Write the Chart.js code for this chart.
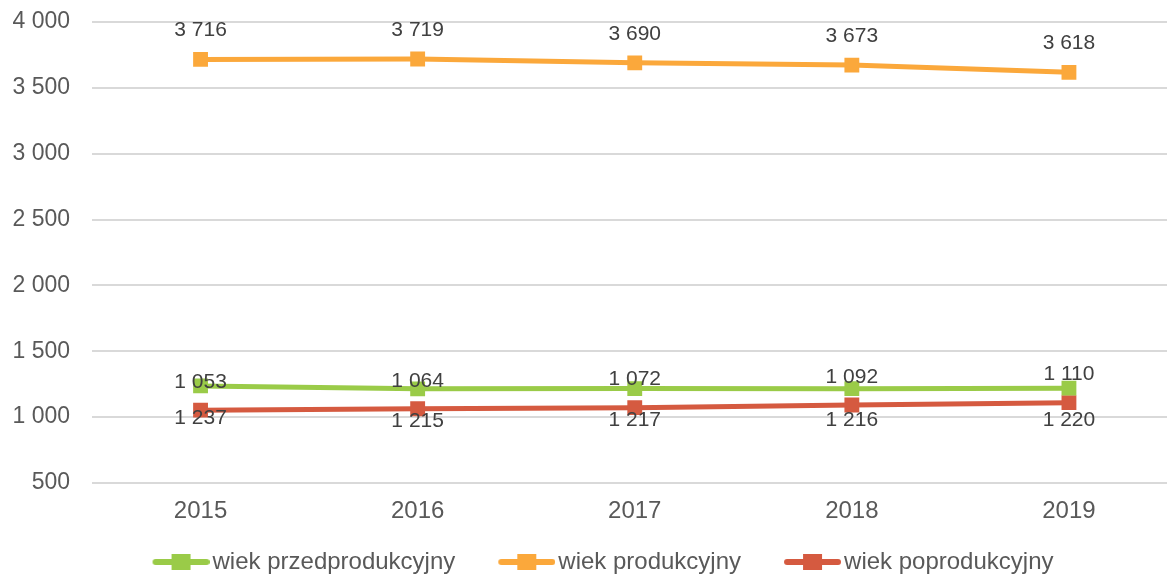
<!DOCTYPE html>
<html lang="pl">
<head>
    <meta charset="UTF-8">
    <script src="https://cdn.jsdelivr.net/npm/chart.js"></script>
    <style>
        html, body {
            margin: 0;
            padding: 0;
            background: #ffffff;
            overflow: hidden;
        }
    </style>
</head>
<body>
    <canvas id="ageChart" width="1188" height="574"></canvas>

    <script>
        const years = ['2015', '2016', '2017', '2018', '2019'];
        const przedprodukcyjny = [1237, 1215, 1217, 1216, 1220];
        const produkcyjny = [3716, 3719, 3690, 3673, 3618];
        const poprodukcyjny = [1053, 1064, 1072, 1092, 1110];
        const yTicks = [500, 1000, 1500, 2000, 2500, 3000, 3500, 4000];

        const fontName = '"Liberation Sans", Arial, sans-serif';

        function fmt(v) {
            return String(v).replace(/\B(?=(\d{3})+(?!\d))/g, ' ');
        }

        // legend marker: line with a square in the middle
        // (left 9px transparent so the icon sits right next to the text)
        function legendIcon(color) {
            const c = document.createElement('canvas');
            c.width = 66;
            c.height = 18;
            const g = c.getContext('2d');
            g.strokeStyle = color;
            g.lineWidth = 6;
            g.lineCap = 'round';
            g.beginPath();
            g.moveTo(12, 9);
            g.lineTo(63, 9);
            g.stroke();
            g.fillStyle = color;
            g.fillRect(28, 1, 19, 16);
            return c;
        }

        // simple data labels (no datalabels plugin available)
        const valueLabels = {
            id: 'valueLabels',
            afterLayout(chart) {
                // nudge the legend a little to the right, like the original
                chart.legend.left += 6;
                chart.legend.right += 6;
            },
            afterDatasetsDraw(chart) {
                const ctx = chart.ctx;
                ctx.save();
                ctx.font = '21px ' + fontName;
                ctx.fillStyle = '#404040';
                ctx.textAlign = 'center';
                ctx.textBaseline = 'middle';
                chart.data.datasets.forEach((ds, i) => {
                    const meta = chart.getDatasetMeta(i);
                    meta.data.forEach((pt, j) => {
                        ctx.fillText(fmt(ds.data[j]), pt.x, pt.y + ds.labelOffset);
                    });
                });
                ctx.restore();
            }
        };

        const series = [
            { label: 'wiek przedprodukcyjny', data: przedprodukcyjny, color: '#9acb48', off: 32 },
            { label: 'wiek produkcyjny', data: produkcyjny, color: '#fba83b', off: -29 },
            { label: 'wiek poprodukcyjny', data: poprodukcyjny, color: '#d55a40', off: -28 }
        ];

        // trailing spaces keep the legend items apart without adding vertical padding
        const legendGap = ['      ', '      ', ''];

        new Chart(document.getElementById('ageChart'), {
            type: 'line',
            data: {
                labels: years,
                datasets: series.map(s => ({
                    label: s.label,
                    data: s.data,
                    borderColor: s.color,
                    backgroundColor: s.color,
                    borderWidth: 5,
                    pointStyle: 'rect',
                    pointRadius: 10.5,
                    pointBorderWidth: 0,
                    pointBackgroundColor: s.color,
                    tension: 0,
                    labelOffset: s.off,
                    legendImg: legendIcon(s.color)
                }))
            },
            options: {
                responsive: false,
                animation: false,
                layout: {
                    padding: { left: 8, right: 2, top: 22, bottom: -10 }
                },
                scales: {
                    x: {
                        offset: true,
                        grid: { display: false },
                        border: { display: false },
                        ticks: {
                            color: '#595959',
                            font: { family: fontName, size: 24 },
                            padding: 6
                        },
                        afterFit(axis) {
                            axis.height = 64;
                            axis.paddingLeft = 0;
                            axis.paddingRight = 0;
                        }
                    },
                    y: {
                        min: 500,
                        max: 4000,
                        afterBuildTicks(axis) {
                            axis.ticks = yTicks.map(v => ({ value: v }));
                        },
                        afterFit(axis) {
                            axis.width = 84;
                            axis.paddingTop = 0;
                            axis.paddingBottom = 0;
                        },
                        grid: { color: '#d9d9d9', lineWidth: 2, drawTicks: false },
                        border: { display: false },
                        ticks: {
                            color: '#595959',
                            font: { family: fontName, size: 23 },
                            padding: 22,
                            callback: v => fmt(v)
                        }
                    }
                },
                plugins: {
                    legend: {
                        position: 'bottom',
                        labels: {
                            usePointStyle: true,
                            pointStyleWidth: 48,
                            boxHeight: 18,
                            padding: 3,
                            color: '#595959',
                            font: { family: fontName, size: 24 },
                            generateLabels(chart) {
                                return chart.data.datasets.map((ds, i) => ({
                                    text: ds.label + legendGap[i],
                                    pointStyle: ds.legendImg,
                                    fillStyle: ds.borderColor,
                                    strokeStyle: ds.borderColor,
                                    lineWidth: 0,
                                    fontColor: '#595959',
                                    datasetIndex: i,
                                    hidden: false
                                }));
                            }
                        }
                    },
                    tooltip: { enabled: false }
                }
            },
            plugins: [valueLabels]
        });
    </script>
</body>
</html>
